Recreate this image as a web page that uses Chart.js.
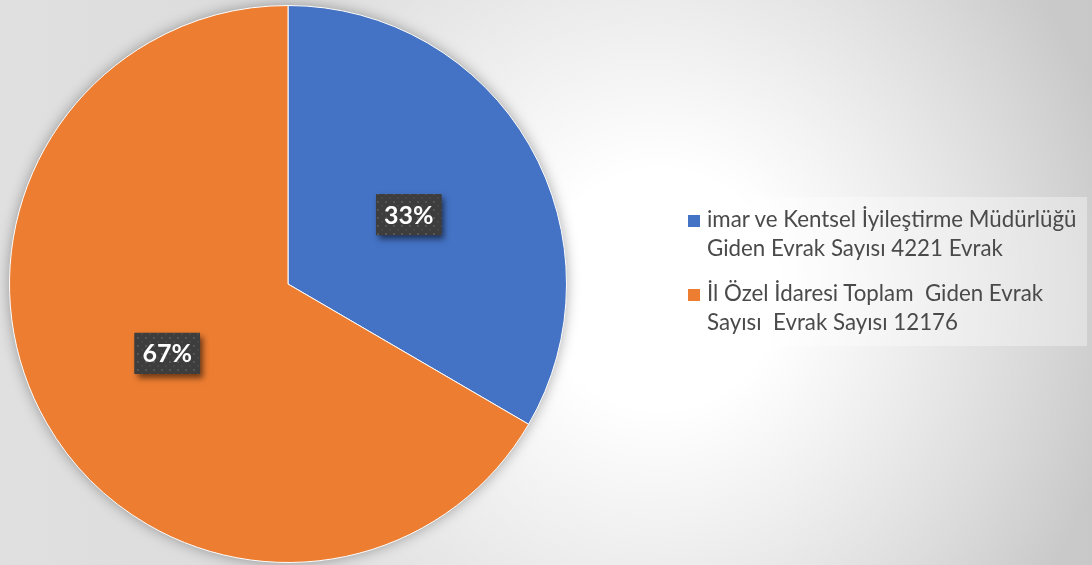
<!DOCTYPE html>
<html>
<head>
<meta charset="utf-8">
<script src="https://cdn.jsdelivr.net/npm/chart.js@4/dist/chart.umd.min.js"></script>
<style>
  html, body { margin: 0; padding: 0; }
  #wrap {
    position: relative; width: 1092px; height: 565px; overflow: hidden;
    background:
      radial-gradient(circle at 660px 290px, rgba(255,255,255,1) 0px, rgba(255,255,255,1) 120px, rgba(255,255,255,0) 480px),
      linear-gradient(to right, #e0e0e0 0%, #d6d6d6 60%, #c8c8c8 100%);
  }
  #wrap canvas { position: absolute; left: 0; top: 0; }
  .legend {
    position: absolute; left: 675px; top: 197px; width: 412px; height: 149px;
    background: rgba(255,255,255,0.35);
    font-family: Lato, sans-serif; font-size: 22.3px; line-height: 29px; color: #4a4a4a;
  }
  .legend .item { position: relative; padding-left: 32px; white-space: pre; }
  .legend .item:first-child { margin-top: 7px; }
  .legend .item + .item { margin-top: 16px; }
  .legend .box { position: absolute; left: 13px; top: 11px; width: 12px; height: 12px; }
</style>
</head>
<body>
<div id="wrap">
  <canvas id="pie" width="1092" height="565"></canvas>
  <div class="legend" id="legend"></div>
</div>
<script>
const labels = [
    ["imar ve Kentsel İyileştirme Müdürlüğü", "Giden Evrak Sayısı 4221 Evrak"],
    ["İl Özel İdaresi Toplam  Giden Evrak", "Sayısı  Evrak Sayısı 12176"]
];
const values = [33.4, 66.6];
const colors = ["#4472C4", "#ED7D31"];

const makePattern = (ctx) => {
    let c = document.createElement("canvas");
    c.width = 8;
    c.height = 8;
    let p = c.getContext("2d");
    p.fillStyle = "#3d3d3d";
    p.fillRect(0, 0, 8, 8);
    p.fillStyle = "#555555";
    p.fillRect(1, 1, 2, 2);
    p.fillStyle = "#474747";
    p.fillRect(5, 5, 2, 2);
    return ctx.createPattern(c, "repeat");
};

const pieShadow = {
    id: "pieShadow",
    beforeDatasetsDraw(chart) {
        let arc = chart.getDatasetMeta(0).data[0];
        let ctx = chart.ctx;
        ctx.save();
        ctx.shadowColor = "rgba(0,0,0,0.35)";
        ctx.shadowBlur = 14;
        ctx.beginPath();
        ctx.arc(arc.x, arc.y, arc.outerRadius, 0, Math.PI * 2);
        ctx.fillStyle = "#888";
        ctx.fill();
        ctx.restore();
    }
};

const percentLabels = {
    id: "percentLabels",
    afterDatasetsDraw(chart) {
        let ctx = chart.ctx;
        let data = chart.data.datasets[0].data;
        let total = data.reduce((a, b) => a + b, 0);
        let pattern = makePattern(ctx);
        chart.getDatasetMeta(0).data.forEach((arc, i) => {
            let pos = arc.getCenterPoint();
            let text = Math.round(data[i] / total * 100) + "%";
            ctx.save();
            ctx.font = "bold 25px Lato, sans-serif";
            let w = ctx.measureText(text).width + 16;
            let h = 41;
            let x = pos.x - w / 2;
            let y = pos.y - h / 2;
            ctx.shadowColor = "rgba(0,0,0,0.55)";
            ctx.shadowBlur = 6;
            ctx.shadowOffsetX = 3;
            ctx.shadowOffsetY = 4;
            ctx.fillStyle = "#3d3d3d";
            ctx.fillRect(x, y, w, h);
            ctx.shadowColor = "transparent";
            ctx.fillStyle = pattern;
            ctx.fillRect(x, y, w, h);
            ctx.fillStyle = "#ffffff";
            ctx.textAlign = "center";
            ctx.textBaseline = "middle";
            ctx.fillText(text, pos.x, pos.y + 1);
            ctx.restore();
        });
    }
};

const drawLegend = () => {
    let legend = document.getElementById("legend");
    labels.forEach((lines, i) => {
        let item = document.createElement("div");
        item.className = "item";
        let box = document.createElement("span");
        box.className = "box";
        box.style.background = colors[i];
        item.appendChild(box);
        item.appendChild(document.createTextNode(lines.join("\n")));
        legend.appendChild(item);
    });
};

let chx = document.getElementById("pie");
new Chart(chx, {
    type: "pie",
    data: {
        labels: labels,
        datasets: [{
            data: values,
            backgroundColor: colors,
            borderColor: "#ffffff",
            borderWidth: 1,
            hoverOffset: 0
        }]
    },
    options: {
        responsive: false,
        animation: false,
        events: [],
        layout: {
            padding: { top: 5, bottom: 2, left: 9, right: 525 }
        },
        plugins: {
            legend: { display: false },
            tooltip: { enabled: false }
        }
    },
    plugins: [pieShadow, percentLabels]
});

drawLegend();
</script>
</body>
</html>
